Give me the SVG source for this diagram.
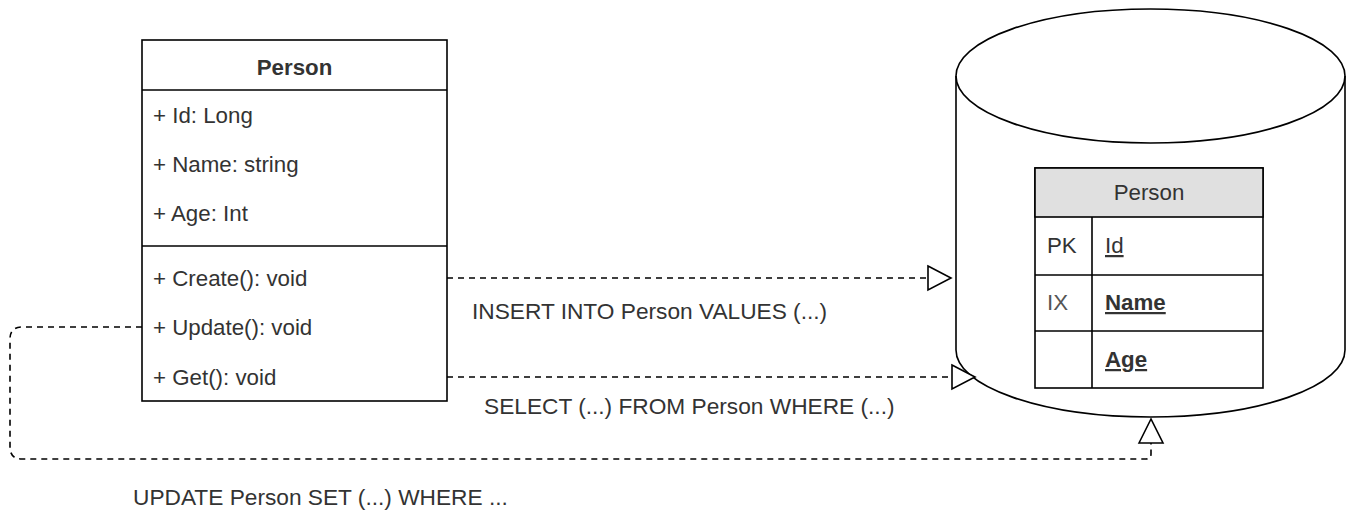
<svg xmlns="http://www.w3.org/2000/svg" width="1353" height="511" viewBox="0 0 1353 511">
  <style>
    .box { fill: #ffffff; stroke: #000000; stroke-width: 1.6; }
    .hdr { fill: #e0e0e0; stroke: #000000; stroke-width: 1.6; }
    .ln { fill: none; stroke: #000000; stroke-width: 1.6; }
    .dash { fill: none; stroke: #000000; stroke-width: 1.6; stroke-dasharray: 6 5; }
    .tri { fill: #ffffff; stroke: #000000; stroke-width: 1.6; stroke-linejoin: miter; }
    text { font-family: "Liberation Sans", Arial, sans-serif; font-size: 22.3px; fill: #333333; }
    .lbl { font-size: 22.7px; }
    .b { font-weight: bold; }
    .u { text-decoration: underline; }
    .c { text-anchor: middle; }
  </style>

  <!-- UML class -->
  <g id="class-person">
    <rect class="box" x="142" y="40" width="305" height="361"/>
    <line class="ln" x1="142" y1="90" x2="447" y2="90"/>
    <line class="ln" x1="142" y1="246" x2="447" y2="246"/>
    <text class="b c" x="294.5" y="75">Person</text>
    <text x="153" y="123">+ Id: Long</text>
    <text x="153" y="172">+ Name: string</text>
    <text x="153" y="221">+ Age: Int</text>
    <text x="153" y="286">+ Create(): void</text>
    <text x="153" y="335">+ Update(): void</text>
    <text x="153" y="385">+ Get(): void</text>
  </g>

  <!-- Database cylinder -->
  <g id="database">
    <path class="box" d="M956 76 A194.5 67 0 0 1 1345 76 V350 A194.5 67 0 0 1 956 350 Z"/>
    <path class="ln" d="M956 76 A194.5 67 0 0 0 1345 76"/>
  </g>

  <!-- Table inside the database -->
  <g id="table-person">
    <rect class="box" x="1035" y="168" width="228" height="220"/>
    <rect class="hdr" x="1035" y="168" width="228" height="49"/>
    <line class="ln" x1="1035" y1="275" x2="1263" y2="275"/>
    <line class="ln" x1="1035" y1="331" x2="1263" y2="331"/>
    <line class="ln" x1="1092" y1="217" x2="1092" y2="388"/>
    <text class="c" x="1149" y="200">Person</text>
    <text x="1047" y="253">PK</text>
    <text x="1105" y="253" class="u">Id</text>
    <text x="1047" y="310" style="fill:#555555">IX</text>
    <text x="1105" y="310" class="b u">Name</text>
    <text x="1105" y="367" class="b u">Age</text>
  </g>

  <!-- Connectors -->
  <g id="connectors">
    <line class="dash" x1="447" y1="278" x2="928" y2="278"/>
    <path class="tri" d="M928 266 L951 278 L928 290 Z"/>

    <line class="dash" x1="447" y1="377" x2="952" y2="377"/>
    <path class="tri" d="M952 365 L975 377 L952 389 Z"/>

    <path class="dash" d="M142 327 H22 Q10 327 10 339 V447 Q10 459 22 459 H1146 Q1151 459 1151 454 V443"/>
    <path class="tri" d="M1139 443 L1151 419 L1163 443 Z"/>

    <text class="lbl" x="472" y="319">INSERT INTO Person VALUES (...)</text>
    <text class="lbl" x="484" y="414">SELECT (...) FROM Person WHERE (...)</text>
    <text class="lbl" x="133" y="505">UPDATE Person SET (...) WHERE ...</text>
  </g>
</svg>
